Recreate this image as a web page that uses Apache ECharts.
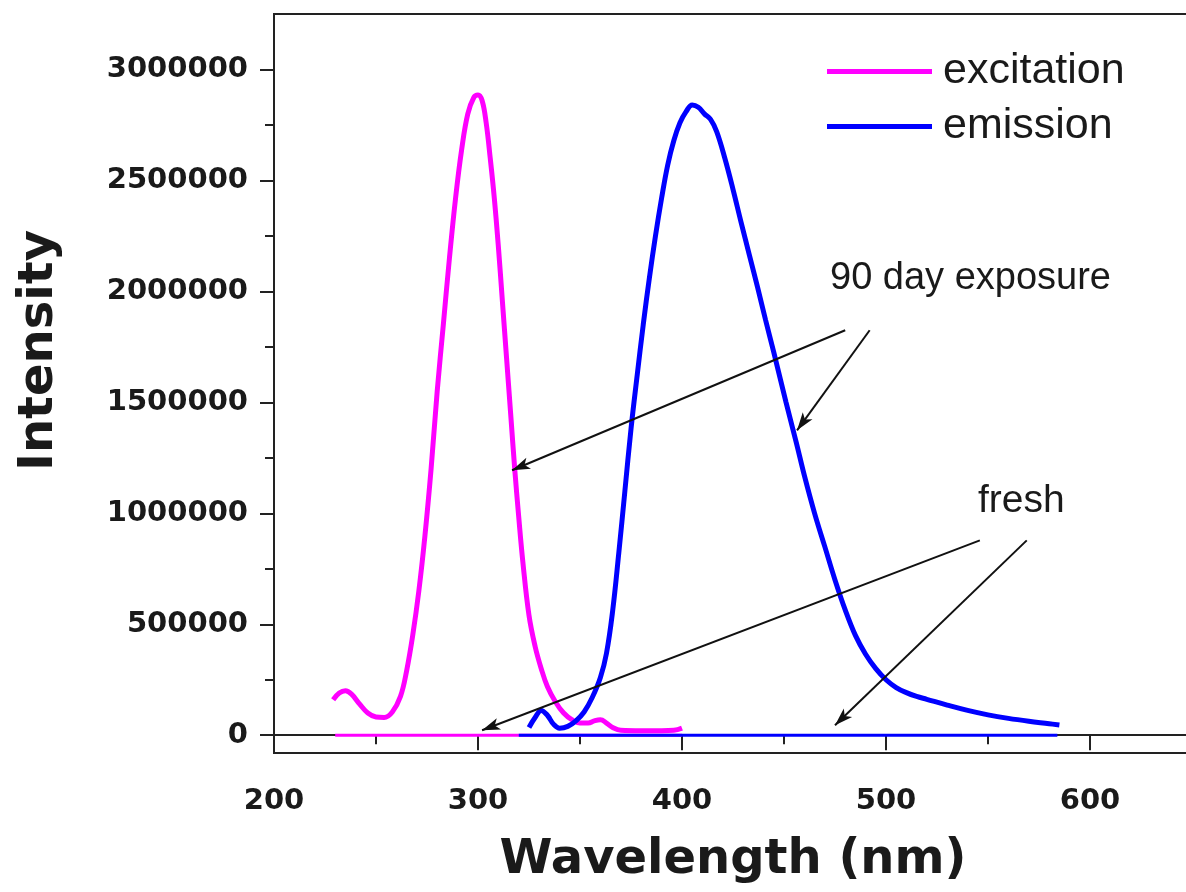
<!DOCTYPE html>
<html>
<head>
<meta charset="utf-8">
<style>
  html, body { margin: 0; padding: 0; background: #fff; }
  #chart { width: 1186px; height: 892px; }
</style>
<script src="https://cdn.jsdelivr.net/npm/echarts@6/dist/echarts.min.js"></script>
</head>
<body>
<div id="chart"></div>
<script>
// excitation spectrum after 90 day exposure
const excitationNm = [229, 232, 235, 238, 242, 246, 250, 254, 258, 262, 265, 268, 271, 274, 277, 280, 283, 286, 289, 292, 295, 298, 300, 302, 304, 306, 308, 310, 312, 314, 316, 318, 320, 322, 325, 328, 331, 334, 338, 342, 346, 350, 354, 357, 360, 363, 366, 370, 380, 390, 396, 400];
const excitationI = [160000, 190000, 200000, 185000, 140000, 100000, 82000, 80000, 105000, 175000, 290000, 450000, 650000, 900000, 1200000, 1550000, 1850000, 2150000, 2420000, 2640000, 2800000, 2875000, 2885000, 2860000, 2760000, 2600000, 2420000, 2200000, 1950000, 1700000, 1450000, 1200000, 980000, 780000, 540000, 400000, 300000, 220000, 150000, 100000, 70000, 55000, 55000, 65000, 70000, 55000, 35000, 22000, 20000, 20000, 22000, 32000];

// emission spectrum after 90 day exposure
const emissionNm = [325, 328, 331, 334, 337, 340, 344, 348, 352, 356, 360, 363, 366, 369, 372, 375, 378, 381, 384, 387, 390, 393, 396, 399, 402, 405, 408, 411, 414, 417, 421, 425, 429, 433, 437, 441, 445, 451, 456, 460, 465, 470, 475, 480, 485, 490, 495, 500, 505, 510, 515, 520, 530, 540, 550, 560, 570, 580, 585];
const emissionI = [35000, 80000, 112000, 90000, 50000, 32000, 40000, 65000, 105000, 170000, 260000, 370000, 560000, 820000, 1100000, 1380000, 1620000, 1850000, 2060000, 2250000, 2420000, 2570000, 2680000, 2760000, 2810000, 2840000, 2830000, 2800000, 2775000, 2720000, 2600000, 2460000, 2310000, 2165000, 2020000, 1870000, 1725000, 1500000, 1320000, 1170000, 1000000, 850000, 700000, 565000, 450000, 365000, 300000, 250000, 215000, 192000, 175000, 162000, 136000, 112000, 92000, 76000, 63000, 52000, 46000];

// fresh samples: flat at zero
const freshExcitationNm = [230, 400];
const freshExcitationI = [0, 0];
const freshEmissionNm = [320, 584];
const freshEmissionI = [0, 0];

// annotation arrows [fromNm, fromI, toNm, toI]
const arrows90 = [[480, 1825000, 316.7, 1194000], [492, 1825000, 456.4, 1374000]];
const arrowsFresh = [[546, 878000, 302, 22500], [569, 878000, 475, 45000]];

const yMajor = [0, 500000, 1000000, 1500000, 2000000, 2500000, 3000000];
const yMinor = [250000, 750000, 1250000, 1750000, 2250000, 2750000];

const pairs = (xs, ys) => xs.map((x, i) => [x, ys[i]]);
const arrowLines = list => list.map(a => [
  { coord: [a[0], a[1]], symbol: 'none' },
  { coord: [a[2], a[3]], symbol: 'arrow', symbolSize: [9, 18] }
]);

const ink = '#1a1a1a';
const tickFont = { fontFamily: 'DejaVu Sans', fontWeight: 'bold', fontSize: 29, color: ink };

const chart = echarts.init(document.getElementById('chart'));
chart.setOption({
  animation: false,
  backgroundColor: '#fff',
  grid: {
    left: 274, top: 14, width: 918, height: 739,
    show: true, borderColor: '#222', borderWidth: 2,
    outerBoundsMode: 'none'
  },
  legend: {
    data: ['excitation', 'emission'],
    orient: 'vertical',
    left: 822, top: 45,
    icon: 'rect', itemWidth: 105, itemHeight: 5, itemGap: 12,
    textStyle: { fontFamily: 'Liberation Sans', fontSize: 43, lineHeight: 43, color: ink, padding: [0, 0, 0, 6] }
  },
  xAxis: {
    type: 'value', min: 200, max: 650, interval: 100,
    axisLine: { lineStyle: { color: '#222', width: 2 } },
    axisTick: { length: 15, lineStyle: { color: '#222', width: 2 } },
    minorTick: { show: true, splitNumber: 2, length: 9, lineStyle: { color: '#222', width: 2 } },
    splitLine: { show: false },
    axisLabel: Object.assign({ margin: 34, showMaxLabel: false }, tickFont),
    name: 'Wavelength (nm)', nameLocation: 'middle', nameGap: 84,
    nameTextStyle: { fontFamily: 'DejaVu Sans', fontWeight: 'bold', fontSize: 48, color: ink }
  },
  yAxis: [{
    type: 'value', min: -80000, max: 3250000, position: 'left',
    axisLine: { show: true, lineStyle: { color: '#222', width: 2 } },
    axisTick: { show: true, length: 14, customValues: yMajor, lineStyle: { color: '#222', width: 2 } },
    splitLine: { show: false },
    axisLabel: Object.assign({ margin: 26, customValues: yMajor, formatter: v => String(v) }, tickFont),
    name: 'Intensity', nameLocation: 'middle', nameGap: 210,
    nameTextStyle: { fontFamily: 'DejaVu Sans', fontWeight: 'bold', fontSize: 48, color: ink, padding: [0, 0, 0, 66] }
  }, {
    type: 'value', min: -80000, max: 3250000, position: 'left',
    axisLine: { show: false },
    axisTick: { show: true, length: 9, customValues: yMinor, lineStyle: { color: '#222', width: 2 } },
    axisLabel: { show: false },
    splitLine: { show: false }
  }],
  graphic: [
    { type: 'text', left: 830, top: 260, style: { text: '90 day exposure', font: '38px "Liberation Sans"', fill: ink } },
    { type: 'text', left: 978, top: 482, style: { text: 'fresh', font: '39px "Liberation Sans"', fill: ink } }
  ],
  series: [{
    name: 'excitation fresh', type: 'line', data: pairs(freshExcitationNm, freshExcitationI),
    showSymbol: false, color: '#ff00ff', lineStyle: { width: 3 }
  }, {
    name: 'emission fresh', type: 'line', data: pairs(freshEmissionNm, freshEmissionI),
    showSymbol: false, color: '#0000ff', lineStyle: { width: 3 }
  }, {
    name: 'excitation', type: 'line', data: pairs(excitationNm, excitationI),
    smooth: 0.4, showSymbol: false, color: '#ff00ff', lineStyle: { width: 5 }
  }, {
    name: 'emission', type: 'line', data: pairs(emissionNm, emissionI),
    smooth: 0.4, showSymbol: false, color: '#0000ff', lineStyle: { width: 5 }
  }, {
    name: 'arrows', type: 'line', data: [], z: 5,
    markLine: {
      silent: true, animation: false,
      symbol: ['none', 'arrow'], symbolSize: 16,
      label: { show: false },
      itemStyle: { color: '#111' },
      lineStyle: { color: '#111', width: 2, type: 'solid' },
      data: arrowLines(arrows90).concat(arrowLines(arrowsFresh))
    }
  }]
});
</script>
</body>
</html>
